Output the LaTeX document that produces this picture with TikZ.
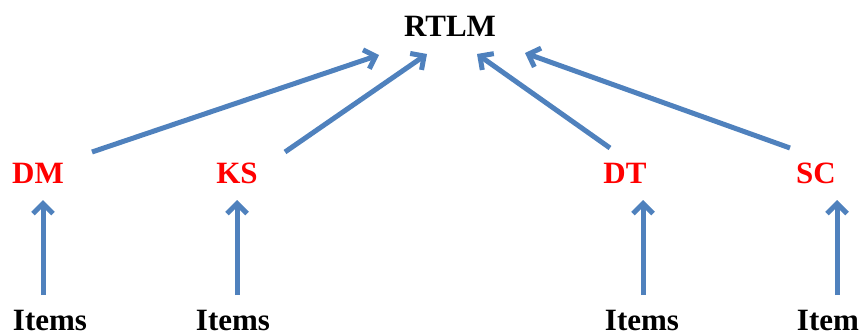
\documentclass[tikz,border=0pt]{standalone}
\usepackage{fontspec}
\setmainfont{Liberation Serif}
\usetikzlibrary{arrows.meta,calc,positioning}

\definecolor{pilblue}{RGB}{79,129,189}

\begin{document}
\begin{tikzpicture}[x=1pt, y=-1pt]
\tikzset{
    %Define standard arrow tip
    >={Straight Barb[length=10pt,width=20pt]},
    %Define style for the labels
    top/.style={
           font=\fontsize{31}{36}\selectfont\bfseries,
           anchor=base,
           inner sep=0pt},
    part/.style={
           top,
           text=red},
    item/.style={
           top,
           text=black},
    % Define arrow style
    pil/.style={
           ->,
           draw=pilblue,
           line width=5pt}
}
\useasboundingbox (0,0) rectangle (859,334);
 %nodes
 \node[top] (rtlm) at (450,37) {RTLM};
 \node[part] (dm) at (38,183) {DM};
 \node[part] (ks) at (237,183) {KS};
 \node[part] (dt) at (625,183) {DT};
 \node[part] (sc) at (816,183) {SC};
 \node[item] (items1) at (50,330) {Items};
 \node[item] (items2) at (233,330) {Items};
 \node[item] (items3) at (642,330) {Items};
 \node[item] (items4) at (834,330) {Items};
 % items feed each part
 \draw[pil] ($(items1.base)+(-7,-35)$) -- ($(dm.base)+(5,17)$);
 \draw[pil] ($(items2.base)+(4,-35)$) -- ($(ks.base)+(0,17)$);
 \draw[pil] ($(items3.base)+(1,-35)$) -- ($(dt.base)+(18,17)$);
 \draw[pil] ($(items4.base)+(3,-35)$) -- ($(sc.base)+(21,17)$);
 % parts feed RTLM
 \draw[pil] ($(dm.base)+(54,-31)$) -- ($(rtlm.base)+(-71,18)$);
 \draw[pil] ($(ks.base)+(48,-31)$) -- ($(rtlm.base)+(-23,17)$);
 \draw[pil] ($(dt.base)+(-15,-35)$) -- ($(rtlm.base)+(27,17)$);
 \draw[pil] ($(sc.base)+(-26,-35)$) -- ($(rtlm.base)+(75,16)$);
\end{tikzpicture}
\end{document}
